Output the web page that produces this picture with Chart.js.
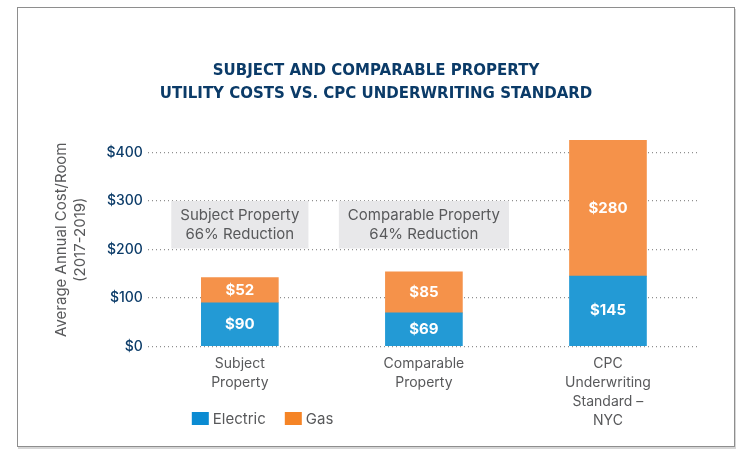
<!DOCTYPE html>
<html>
<head>
<meta charset="utf-8">
<script src="https://cdn.jsdelivr.net/npm/chart.js@4.4.1/dist/chart.umd.min.js"></script>
<style>
  html, body { margin: 0; padding: 0; background: #fff; }
  #frame {
    position: absolute; left: 17px; top: 7px;
    width: 716px; height: 438px;
    border: 1px solid #8e8e8e;
    box-shadow: 1px 2px 0 #d6d6d6;
  }
  #frame canvas { display: block; }
</style>
</head>
<body>
<div id="frame"><canvas id="myChart" width="716" height="438"></canvas></div>
<script>
// data
const categories = [['Subject', 'Property'], ['Comparable', 'Property'], ['CPC', 'Underwriting', 'Standard –', 'NYC']];
const electric = [90, 69, 145];
const gas = [52, 85, 280];
const yTicks = [0, 100, 200, 300, 400];
const notes = [['Subject Property', '66% Reduction'], ['Comparable Property', '64% Reduction']];

const navy = '#0b3b68';
const grey = '#58595b';
const font = 'Inter';

// white value labels in the middle of each segment
const segmentLabels = {
    id: 'segmentLabels',
    afterDatasetsDraw(chart) {
        const ctx = chart.ctx;
        ctx.save();
        ctx.fillStyle = '#ffffff';
        ctx.font = `bold 15px ${font}`;
        ctx.textAlign = 'center';
        ctx.textBaseline = 'middle';
        chart.data.datasets.forEach((ds, i) => {
            chart.getDatasetMeta(i).data.forEach((bar, j) => {
                const p = bar.getProps(['x', 'y', 'base'], true);
                ctx.fillText('$' + ds.data[j], p.x, (p.y + p.base) / 2);
            });
        });
        ctx.restore();
    }
};

// grey reduction boxes above the first two bars
const reductionNotes = {
    id: 'reductionNotes',
    beforeDatasetsDraw(chart, args, opts) {
        const ctx = chart.ctx;
        const x = chart.scales.x, y = chart.scales.y;
        const top = y.getPixelForValue(opts.from[1]);
        const bottom = y.getPixelForValue(opts.from[0]);
        ctx.save();
        ctx.font = `15px ${font}`;
        ctx.textAlign = 'center';
        ctx.textBaseline = 'middle';
        notes.forEach((lines, i) => {
            const cx = x.getPixelForValue(i);
            const w = Math.max(...lines.map(l => ctx.measureText(l).width)) + opts.padX * 2;
            ctx.fillStyle = '#e8e8ea';
            ctx.fillRect(cx - w / 2, top, w, bottom - top);
            ctx.fillStyle = grey;
            const mid = (top + bottom) / 2;
            ctx.fillText(lines[0], cx, mid - 9.5);
            ctx.fillText(lines[1], cx, mid + 9.5);
        });
        ctx.restore();
    }
};

// legend at the lower left, next to the last category label
const cornerLegend = {
    id: 'cornerLegend',
    afterDraw(chart, args, opts) {
        const ctx = chart.ctx;
        let x = chart.chartArea.left + opts.offsetX;
        const y = opts.y;
        ctx.save();
        ctx.font = `15px ${font}`;
        ctx.textBaseline = 'middle';
        chart.data.datasets.forEach((ds, i) => {
            ctx.fillStyle = opts.colors[i];
            ctx.fillRect(x, y - 6.5, 17, 13);
            ctx.fillStyle = grey;
            ctx.fillText(ds.label, x + 21, y + 1);
            x += opts.step;
        });
        ctx.restore();
    }
};

const ctx = document.getElementById('myChart').getContext('2d');
const myChart = new Chart(ctx, {
    type: 'bar',
    data: {
        labels: categories,
        datasets: [
            { label: 'Electric', data: electric, backgroundColor: '#239ad5', borderWidth: 0 },
            { label: 'Gas', data: gas, backgroundColor: '#f5924a', borderWidth: 0 }
        ]
    },
    options: {
        responsive: false,
        animation: false,
        barThickness: 77,
        layout: { padding: { top: 52, left: 34, right: 34, bottom: 16 } },
        scales: {
            x: {
                stacked: true,
                grid: { display: false },
                border: { display: false },
                ticks: { color: grey, padding: 0, font: { family: font, size: 14, lineHeight: 1.35 } }
            },
            y: {
                stacked: true,
                min: 0,
                max: 440,
                afterBuildTicks: scale => { scale.ticks = yTicks.map(v => ({ value: v })); },
                border: { display: false, dash: [1, 3] },
                grid: { color: '#8f8f8f', lineWidth: 1.3, drawTicks: false },
                ticks: {
                    color: navy,
                    padding: 5,
                    font: { family: font, size: 14, weight: 500 },
                    callback: v => '$' + v
                },
                title: {
                    display: true,
                    text: ['Average Annual Cost/Room', '(2017-2019)'],
                    color: grey,
                    padding: { top: 0, bottom: 12 },
                    font: { family: font, size: 15, lineHeight: 1.25 }
                }
            }
        },
        plugins: {
            legend: { display: false },
            tooltip: { enabled: false },
            title: {
                display: true,
                text: ['SUBJECT AND COMPARABLE PROPERTY', 'UTILITY COSTS VS. CPC UNDERWRITING STANDARD'],
                color: navy,
                padding: { top: 0, bottom: 28 },
                font: { family: 'DejaVu Sans', size: 15, weight: 'bold', lineHeight: 1.5 }
            },
            reductionNotes: { from: [202, 300], padX: 9 },
            cornerLegend: { offsetX: 44, y: 410.5, step: 93, colors: ['#0b8bd2', '#f58426'] }
        }
    },
    plugins: [reductionNotes, segmentLabels, cornerLegend]
});
</script>
</body>
</html>
